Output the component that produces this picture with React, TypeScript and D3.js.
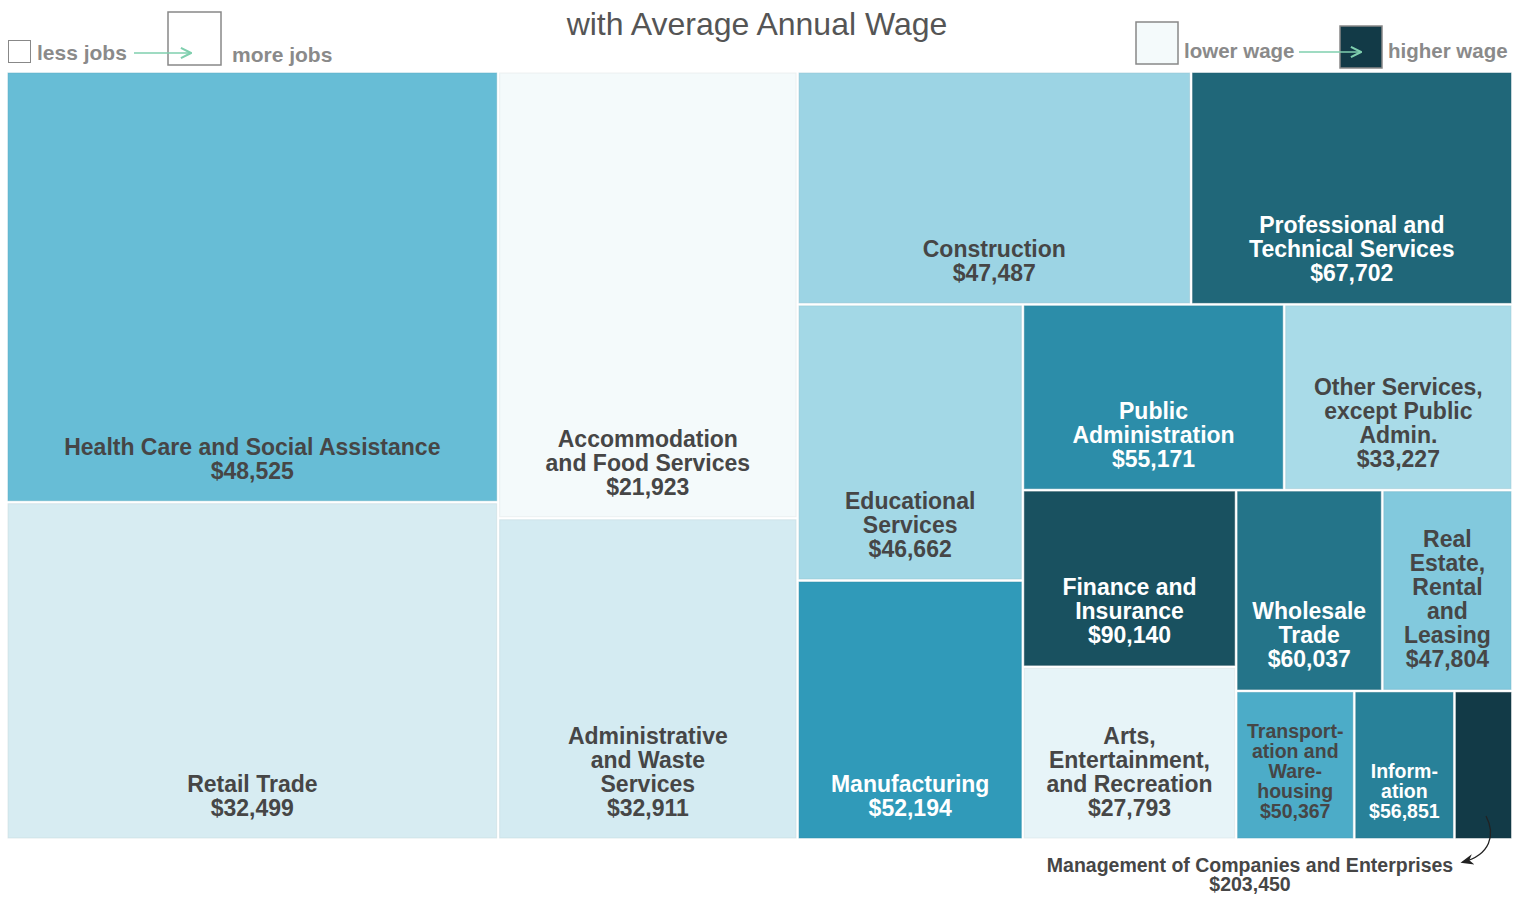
import React, { useMemo } from "react";
import * as d3 from "d3";

// ---- data ----
const industries = [
  "Health Care and Social Assistance",
  "Retail Trade",
  "Accommodation and Food Services",
  "Administrative and Waste Services",
  "Construction",
  "Professional and Technical Services",
  "Educational Services",
  "Manufacturing",
  "Public Administration",
  "Other Services, except Public Admin.",
  "Finance and Insurance",
  "Arts, Entertainment, and Recreation",
  "Wholesale Trade",
  "Real Estate, Rental and Leasing",
  "Transportation and Warehousing",
  "Information",
  "Management of Companies and Enterprises",
];
const jobs = [21064, 16497, 13305, 9568, 9118, 7447, 6188, 5805, 4829, 4218, 3749, 3664, 2920, 2600, 1746, 1480, 858];
const wages = [48525, 32499, 21923, 32911, 47487, 67702, 46662, 52194, 55171, 33227, 90140, 27793, 60037, 47804, 50367, 56851, 203450];
const labelLines: string[][] = [
  ["Health Care and Social Assistance"],
  ["Retail Trade"],
  ["Accommodation", "and Food Services"],
  ["Administrative", "and Waste", "Services"],
  ["Construction"],
  ["Professional and", "Technical Services"],
  ["Educational", "Services"],
  ["Manufacturing"],
  ["Public", "Administration"],
  ["Other Services,", "except Public", "Admin."],
  ["Finance and", "Insurance"],
  ["Arts,", "Entertainment,", "and Recreation"],
  ["Wholesale", "Trade"],
  ["Real", "Estate,", "Rental", "and", "Leasing"],
  ["Transport-", "ation and", "Ware-", "housing"],
  ["Inform-", "ation"],
  [],
];
const smallLabel = [14, 15];
const outsideLabel = 16;

// nesting of the tiles (indices into the arrays above), laid out with slice/dice
const layoutTree: any = [
  [0, 1],
  [2, 3],
  [[4, 5], [[6, 7], [[8, 9], [[10, 11], [[12, 13], [14, 15, 16]]]]]],
];

const W = 1524;
const H = 902;
const FONT = "'Liberation Sans', Arial, Helvetica, sans-serif";

const fmt = (v: number) => "$" + d3.format(",")(v);

export default function App() {
  const { leaves, color } = useMemo(() => {
    const sorted = [...wages].sort((a, b) => a - b);
    const rankOf = (w: number) => sorted.indexOf(w);
    const color = d3
      .scaleLinear<string>()
      .domain([0, 1, 2, 3, 4, 6, 8, 10, 14, 16])
      .range([
        "#f4fafb",
        "#e7f4f8",
        "#d7ecf2",
        "#d4ebf2",
        "#a9dbe8",
        "#9cd4e4",
        "#67bdd6",
        "#309ab9",
        "#206779",
        "#123a47",
      ])
      .interpolate(d3.interpolateRgb);
    const root = d3
      .hierarchy<any>(layoutTree, (d) => (Array.isArray(d) ? d : null))
      .sum((d) => (Array.isArray(d) ? 0 : jobs[d]));
    d3
      .treemap<any>()
      .tile(d3.treemapSliceDice)
      .size([1503, 765])
      .paddingInner(3)
      .paddingOuter(0)(root);
    const leaves = (root.leaves() as any[]).map((n) => {
      const i = n.data as number;
      return { i, x0: n.x0 + 8, y0: n.y0 + 73, x1: n.x1 + 8, y1: n.y1 + 73, fill: color(rankOf(wages[i])) };
    });
    return { leaves, color };
  }, []);

  const lowColor = color(0);
  const highColor = color(16);

  return (
    <svg
      width={W}
      height={H}
      style={{ position: "absolute", left: 0, top: 0, background: "#fff" }}
      fontFamily={FONT}
    >
      <defs>
        <marker id="ah" viewBox="0 0 10 10" refX="9" refY="5" markerWidth="9" markerHeight="9" orient="auto">
          <path d="M1,1 L9,5 L1,9" fill="none" stroke="#7fcfae" strokeWidth="1.6" />
        </marker>
        <marker id="ahb" viewBox="0 0 10 10" refX="8" refY="5" markerWidth="10" markerHeight="10" orient="auto">
          <path d="M0,1 L10,5 L0,9 L3,5 Z" fill="#222" />
        </marker>
      </defs>

      <text x={757} y={35} textAnchor="middle" fontSize={32} fill="#555">
        with Average Annual Wage
      </text>

      {/* jobs legend */}
      <rect x={8.5} y={40.5} width={22} height={22} fill="#fff" stroke="#888" strokeWidth={1} />
      <text x={37} y={60} fontSize={21} fontWeight="bold" fill="#8a8a8a">less jobs</text>
      <rect x={168} y={12} width={53} height={53} fill="#fff" stroke="#888" strokeWidth={1.5} />
      <line x1={134} y1={53} x2={191} y2={53} stroke="#7fcfae" strokeWidth={1.4} markerEnd="url(#ah)" />
      <text x={232} y={62} fontSize={21} fontWeight="bold" fill="#8a8a8a">more jobs</text>

      {/* wage legend */}
      <rect x={1136} y={22} width={42} height={42} fill={lowColor} stroke="#888" strokeWidth={1.5} />
      <text x={1184} y={58} fontSize={20.5} fontWeight="bold" fill="#8a8a8a">lower wage</text>
      <rect x={1340} y={26} width={42} height={42} fill={highColor} stroke="#888" strokeWidth={1.5} />
      <line x1={1299} y1={52} x2={1361} y2={52} stroke="#7fcfae" strokeWidth={1.4} markerEnd="url(#ah)" />
      <text x={1388} y={58} fontSize={20.5} fontWeight="bold" fill="#8a8a8a">higher wage</text>

      {leaves.map((l) => {
        const dark = d3.hsl(l.fill).l < 0.5;
        const small = smallLabel.includes(l.i);
        const fs = small ? 19.5 : 23;
        const lh = small ? 20 : 24;
        const lines = labelLines[l.i].length ? [...labelLines[l.i], fmt(wages[l.i])] : [];
        const cx = (l.x0 + l.x1) / 2;
        const lastBase = l.y1 - (small ? 20 : 22);
        return (
          <g key={l.i}>
            <rect
              x={l.x0}
              y={l.y0}
              width={l.x1 - l.x0}
              height={l.y1 - l.y0}
              fill={l.fill}
              stroke={d3.color(l.fill)!.darker(0.25).toString()}
              strokeOpacity={0.5}
              strokeWidth={1}
            />
            {lines.map((t, k) => (
              <text
                key={k}
                x={cx}
                y={lastBase - (lines.length - 1 - k) * lh}
                textAnchor="middle"
                fontSize={fs}
                fontWeight="bold"
                fill={dark ? "#ffffff" : "#464646"}
              >
                {t}
              </text>
            ))}
          </g>
        );
      })}

      {/* outside annotation */}
      <text x={1250} y={872} textAnchor="middle" fontSize={19.5} fontWeight="bold" fill="#464646">
        {industries[outsideLabel]}
      </text>
      <text x={1250} y={891} textAnchor="middle" fontSize={19.5} fontWeight="bold" fill="#464646">
        {fmt(wages[outsideLabel])}
      </text>
      <path d="M1486,816 C1496,835 1490,855 1463,862" fill="none" stroke="#222" strokeWidth={1.3} markerEnd="url(#ahb)" />
    </svg>
  );
}
